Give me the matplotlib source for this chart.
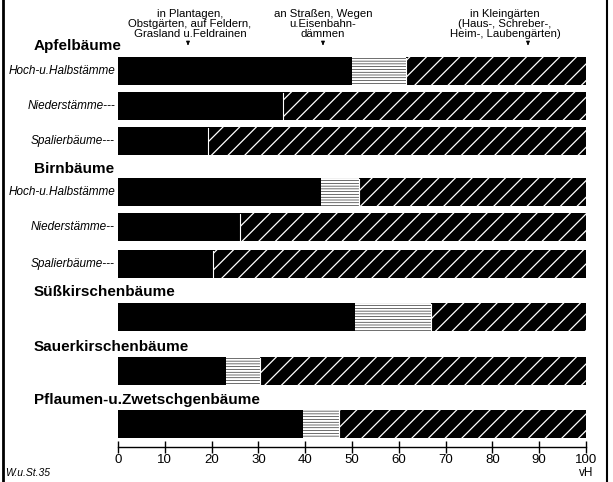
import matplotlib
matplotlib.use("Agg")
import matplotlib.pyplot as plt
from matplotlib.lines import Line2D

# ------------------ Data (vH) ------------------

groups = ["Apfelbäume", "Birnbäume", "Süßkirschenbäume",
          "Sauerkirschenbäume", "Pflaumen-u.Zwetschgenbäume"]

row_labels = ["Hoch-u.Halbstämme", "Niederstämme---", "Spalierbäume---",
              "Hoch-u.Halbstämme", "Niederstämme--", "Spalierbäume---",
              "", "", ""]

plantagen = [50.0, 35.3, 19.2, 43.3, 26.1, 20.2, 50.6, 23.1, 39.5]
strassen = [11.5, 0.0, 0.0, 8.2, 0.0, 0.0, 16.2, 7.2, 7.7]
kleingarten = [38.5, 64.7, 80.8, 48.5, 73.9, 79.8, 33.2, 69.7, 52.8]

headers = ["in Plantagen,\nObstgärten, auf Feldern,\nGrasland u.Feldrainen",
           "an Straßen, Wegen\nu.Eisenbahn-\ndämmen",
           "in Kleingärten\n(Haus-, Schreber-,\nHeim-, Laubengärten)"]

# ------------------ Layout (pixels, y from top) ------------------

W, H = 613, 482
x0_px, x100_px = 118, 586
bar_y = [71, 106, 141, 192, 227, 264, 317, 371, 424]
bar_h = 28
group_y = [46, 169, 292, 347, 400]
header_x = [190, 323, 505]
arrow_x = [188, 323, 528]
axis_y = 447

font = ["Liberation Sans", "DejaVu Sans"]


def px2pct(px):
    return (px - x0_px) / (x100_px - x0_px) * 100


fig = plt.figure(figsize=(W / 100, H / 100), dpi=100)
fig.patch.set_facecolor("white")
ax = fig.add_axes([x0_px / W, 0, (x100_px - x0_px) / W, 1])
ax.set_xlim(0, 100)
ax.set_ylim(H, 0)
ax.patch.set_alpha(0)

# bars
ax.barh(bar_y, plantagen, height=bar_h, color="black", linewidth=0)
with plt.rc_context({"hatch.linewidth": 1.6}):
    b2 = ax.barh(bar_y, strassen, left=plantagen, height=bar_h, color="black",
                 edgecolor="white", hatch="------", linewidth=0)
left3 = [a + b for a, b in zip(plantagen, strassen)]
with plt.rc_context({"hatch.linewidth": 0.9}):
    b3 = ax.barh(bar_y, kleingarten, left=left3, height=bar_h, color="black",
                 edgecolor="white", hatch="//", linewidth=0)
for bars, lw in [(b2, 1.6), (b3, 0.9)]:
    for p in bars:
        if hasattr(p, "set_hatch_linewidth"):
            p.set_hatch_linewidth(lw)
for y, l in zip(bar_y, left3):
    ax.plot([l, l], [y - bar_h / 2 + 1, y + bar_h / 2 - 1], color="white", lw=0.8)

# labels
for y, lab in zip(bar_y, row_labels):
    if lab:
        ax.text(px2pct(115), y, lab, ha="right", va="center", fontsize=8.5,
                style="italic", family=font, clip_on=False)
for y, g in zip(group_y, groups):
    ax.text(px2pct(34), y, g, ha="left", va="center", fontsize=11,
            fontweight="bold", family=font, clip_on=False)

# column headers
for x, txt in zip(header_x, headers):
    ax.text(px2pct(x), 24, txt, ha="center", va="center", fontsize=8.2,
            linespacing=0.95, family=font, clip_on=False)
for x in arrow_x:
    ax.annotate("", xy=(px2pct(x), 48), xytext=(px2pct(x), 41),
                arrowprops=dict(arrowstyle="-|>", color="black", lw=0.8,
                                mutation_scale=5))

# x axis
for s in ["left", "right", "top"]:
    ax.spines[s].set_visible(False)
ax.spines["bottom"].set_position(("data", axis_y))
ax.spines["bottom"].set_linewidth(1)
ax.set_xticks(range(0, 101, 10))
ax.tick_params(axis="x", direction="inout", length=8, width=1, pad=1,
               labelsize=9.5)
for t in ax.get_xticklabels():
    t.set_family(font)
ax.set_yticks([])
ax.text(100, 473, "vH", ha="center", va="center", fontsize=8.5, family=font)

fig.text(5 / W, 1 - 473 / H, "W.u.St.35", ha="left", va="center",
         fontsize=7.5, style="italic", family=font)

# frame lines
fig.add_artist(Line2D([3 / W, 3 / W], [0, 1], color="black", lw=2))
fig.add_artist(Line2D([607 / W, 607 / W], [0, 1], color="black", lw=1.5))

fig.savefig("out.png", dpi=100)
